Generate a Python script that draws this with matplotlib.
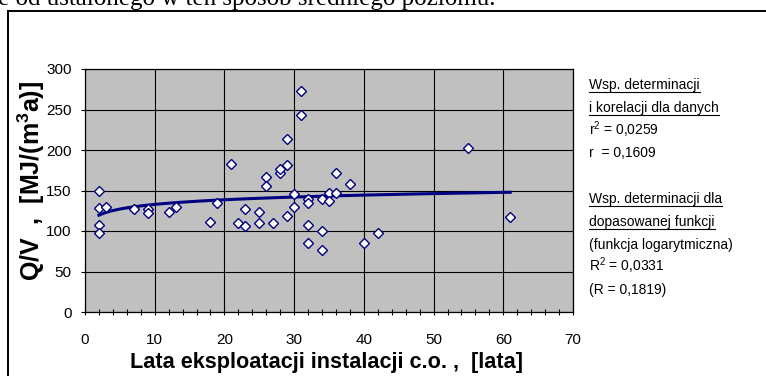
#!/usr/bin/env python3
"""Heating energy indicator vs. years of c.o. installation use (scatter + log trend)."""

import matplotlib

matplotlib.use("Agg")
import matplotlib.pyplot as plt
import numpy as np
from matplotlib import font_manager
from matplotlib.lines import Line2D
from matplotlib.ticker import MultipleLocator

# --- data --------------------------------------------------------------------
age_years = [2, 2, 2, 2, 3, 7, 9, 9, 12, 13, 18, 19, 21, 22, 23, 23, 25, 25, 26,
             26, 27, 28, 28, 29, 29, 29, 30, 30, 31, 31, 32, 32, 32, 32, 34, 34,
             34, 35, 35, 36, 36, 38, 40, 42, 55, 61]
q_per_v = [150, 128, 108, 97, 130, 127, 127, 122, 124, 130, 111, 134, 183, 110,
           127, 106, 124, 110, 167, 155, 110, 172, 176, 182, 213, 118, 130, 146,
           273, 243, 139, 134, 108, 85, 140, 100, 76, 147, 137, 147, 171, 158,
           85, 97, 203, 117]

x_ticks = [0, 10, 20, 30, 40, 50, 60, 70]
y_ticks = [0, 50, 100, 150, 200, 250, 300]

side_lines = [
    ("Wsp. determinacji", True),
    ("i korelacji dla danych", True),
    (r"r$^2$ = 0,0259", False),
    ("r  = 0,1609", False),
    ("", False),
    ("Wsp. determinacji dla", True),
    ("dopasowanej funkcji", True),
    ("(funkcja logarytmiczna)", False),
    (r"R$^2$ = 0,0331", False),
    ("(R = 0,1819)", False),
]

top_text = "e od ustalonego w ten sposób średniego poziomu."
x_label = "Lata eksploatacji instalacji c.o. ,  [lata]"
y_label = r"Q/V  ,  [MJ/(m$^{\mathbf{3}}$a)]"

NAVY = "#000080"
PLOT_BG = "#C0C0C0"

W, H = 766, 376

names = {f.name for f in font_manager.fontManager.ttflist}
SANS = "Liberation Sans Narrow" if "Liberation Sans Narrow" in names else "Liberation Sans"

plt.rcParams["font.family"] = [SANS, "DejaVu Sans"]
plt.rcParams["mathtext.fontset"] = "custom"
plt.rcParams["mathtext.rm"] = SANS
plt.rcParams["mathtext.bf"] = SANS + ":bold"


def px(x, y):
    """pixel (from top-left) -> figure fraction"""
    return x / W, 1 - y / H


fig = plt.figure(figsize=(W / 100, H / 100), dpi=100)

# frame of the embedded chart (right and bottom edges are outside the crop)
fig.add_artist(Line2D([8 / W, 1.02], [1 - 11 / H] * 2, color="black", lw=1.4,
                      transform=fig.transFigure))
fig.add_artist(Line2D([8 / W] * 2, [-0.02, 1 - 11 / H], color="black", lw=1.4,
                      transform=fig.transFigure))

# cut-off line of document text above the chart
fig.text(*px(-2, 5), top_text, family="Liberation Serif", fontsize=18,
         ha="left", va="baseline")

ax = fig.add_axes([85 / W, 64 / H, 488 / W, 243 / H])
ax.set_facecolor(PLOT_BG)

# logarithmic trend fitted to the points
b, a = np.polyfit(np.log(age_years), q_per_v, 1)
xs = np.linspace(min(age_years), max(age_years), 200)
ax.plot(xs, a + b * np.log(xs), color=NAVY, lw=2.2, zorder=3)

ax.plot(age_years, q_per_v, linestyle="none", marker="D", markersize=4.8,
        markerfacecolor="white", markeredgecolor=NAVY, markeredgewidth=1.0,
        zorder=4)

ax.set_xlim(0, 70)
ax.set_ylim(0, 300)
ax.set_xticks(x_ticks)
ax.set_yticks(y_ticks)
ax.xaxis.set_minor_locator(MultipleLocator(2))
ax.grid(True, which="major", color="black", lw=0.8)
ax.set_axisbelow(True)
for spine in ax.spines.values():
    spine.set_linewidth(0.9)

ax.tick_params(axis="x", which="both", direction="inout", length=4, width=0.8,
               pad=13, labelsize=11)
ax.tick_params(axis="y", which="major", direction="out", length=3, width=0.8,
               pad=6.5, labelsize=11)

fig.text(*px(327, 368), x_label, fontsize=15.6, fontweight="bold",
         ha="center", va="baseline")
fig.text(*px(31, 180.5), y_label, fontsize=18, fontweight="bold",
         rotation=90, ha="center", va="center")

# explanatory block on the right, some lines underlined
renderer = fig.canvas.get_renderer()
to_fig = fig.transFigure.inverted()
for i, (line, underline) in enumerate(side_lines):
    if not line:
        continue
    y_base = 89 + i * 22.8
    t = fig.text(*px(589, y_base), line, fontsize=10, ha="left", va="baseline")
    if underline:
        bb = t.get_window_extent(renderer).transformed(to_fig)
        yu = 1 - (y_base + 3) / H
        fig.add_artist(Line2D([bb.x0, bb.x1], [yu, yu], color="black", lw=0.8,
                              transform=fig.transFigure))

fig.savefig("out.png", dpi=100)
